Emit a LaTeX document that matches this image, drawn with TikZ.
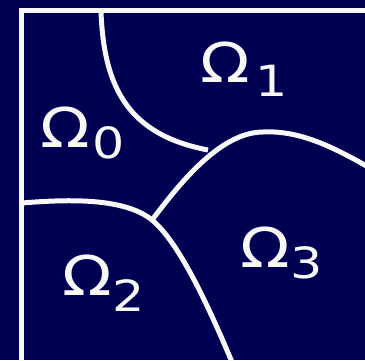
\documentclass[tikz,border=0pt]{standalone}
\usepackage{fontspec}
\setmainfont{DejaVu Sans}
\definecolor{bgnavy}{RGB}{0,0,82}
\definecolor{lineW}{RGB}{248,248,248}
\newcommand{\wideglyph}[1]{\scalebox{1.18}[1]{#1}}
\begin{document}
\begin{tikzpicture}[x=1pt,y=-1pt,
  bound/.style={draw=lineW,line width=5pt},
  omg/.style={anchor=base west,inner sep=0pt,text=lineW,font=\fontsize{55}{55}\selectfont},
  subs/.style={anchor=base west,inner sep=0pt,text=lineW,font=\fontsize{43}{43}\selectfont}]
\useasboundingbox (0,0) rectangle (365,360);
\fill[bgnavy] (0,0) rectangle (365,360);
\begin{scope}
\clip (0,0) rectangle (365,360);
\draw[bound] (370,10.8) -- (21,10.8) -- (21,365);
\coordinate (a0) at (101,12);
\coordinate (j1) at (208,150);
\coordinate (j2) at (152,220);
\coordinate (top) at (263,132);
\coordinate (cL) at (22,203);
\coordinate (cB) at (232,362);
\draw[bound] (a0) .. controls (104,90) and (130,135) .. (j1);
\draw[bound] (j2) .. controls (175,190) and (218,132) .. (top) .. controls (300,130) and (335,148) .. (370,168);
\draw[bound] (cL) .. controls (70,199) and (125,198) .. (j2) .. controls (180,243) and (210,310) .. (cB);
\end{scope}
\node[omg] (w0) at (40,147) {\wideglyph{Ω}};
\node[subs] (s0) at (92,158) {\wideglyph{0}};
\node[omg] (w1) at (200,82) {\wideglyph{Ω}};
\node[subs] (s1) at (255,96) {\wideglyph{1}};
\node[omg] (w2) at (62,295) {\wideglyph{Ω}};
\node[subs] (s2) at (112,311) {\wideglyph{2}};
\node[omg] (w3) at (240,267) {\wideglyph{Ω}};
\node[subs] (s3) at (290,278) {\wideglyph{3}};
\end{tikzpicture}
\end{document}
